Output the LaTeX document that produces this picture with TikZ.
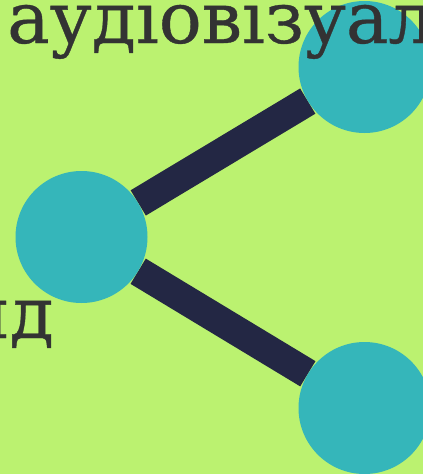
\documentclass[tikz,border=0pt]{standalone}
\usepackage{fontspec}
\setmainfont[FakeBold=0.5]{DejaVu Serif}
\pgfdeclarelayer{bg}
\pgfdeclarelayer{links}
\pgfsetlayers{bg,links,main}
\definecolor{lime}{HTML}{BBF270}
\definecolor{teal2}{HTML}{35B6BA}
\definecolor{navy2}{HTML}{232744}
\definecolor{ink}{HTML}{333333}
\tikzset{
  dot/.style={circle,fill=teal2,draw=none,minimum size=132pt,inner sep=0pt},
  link/.style={draw=navy2,line width=29.5pt},
  lbl/.style={text=ink,inner sep=0pt,font=\bfseries\fontsize{71.5}{72}\selectfont}
}
\begin{document}
\begin{tikzpicture}[x=1pt,y=-1pt]
\useasboundingbox (0,0) rectangle (423,474);
\begin{pgfonlayer}{bg}
\fill[lime] (0,0) rectangle (423,474);
\end{pgfonlayer}
\clip (0,0) rectangle (423,474);
\node[dot] (a) at (81.5,237) {};
\node[dot] (b) at (364.5,67) {};
\node[dot] (c) at (364.5,408) {};
\begin{pgfonlayer}{links}
\draw[link] (a) -- (b);
\draw[link] (a) -- (c);
\end{pgfonlayer}
\node[lbl,anchor=base west] (t1) at (7,43) {\mdseries аудіовізуальний};
\node[lbl,anchor=base east] (t2) at (54,338) {\mdseries ид};
\end{tikzpicture}
\end{document}
